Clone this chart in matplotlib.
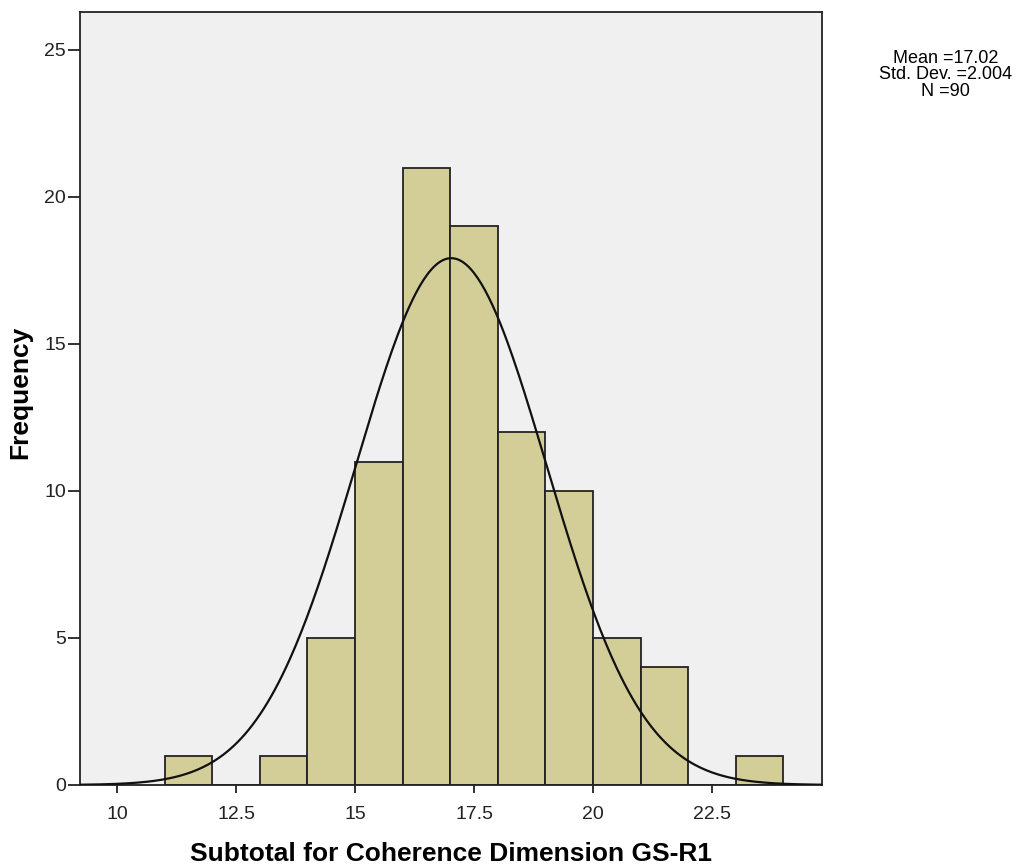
import numpy as np
import matplotlib
matplotlib.use("Agg")
import matplotlib.pyplot as plt

plt.rcParams['font.family'] = ['Liberation Sans', 'DejaVu Sans']

# histogram bins (width 1) and counts
bin_left = [11, 12, 13, 14, 15, 16, 17, 18, 19, 20, 21, 22, 23]
counts = [1, 0, 1, 5, 11, 21, 19, 12, 10, 5, 4, 0, 1]
mean = 17.02
sd = 2.004
n = 90

x_ticks = [10, 12.5, 15, 17.5, 20, 22.5]
x_tick_labels = ["10", "12.5", "15", "17.5", "20", "22.5"]
y_ticks = [0, 5, 10, 15, 20, 25]

fig = plt.figure(figsize=(10.28, 8.67), dpi=100)
ax = fig.add_axes([0.0778, 0.0946, 0.7218, 0.8916])
ax.set_facecolor("#F0F0F0")

ax.bar(bin_left, counts, width=1, align="edge", color="#D3CE97",
       edgecolor="#222222", linewidth=1.3, zorder=2)

xs = np.linspace(9.22, 24.8, 400)
ys = n * 1 / (sd * np.sqrt(2 * np.pi)) * np.exp(-0.5 * ((xs - mean) / sd) ** 2)
ax.plot(xs, ys, color="#111111", linewidth=1.6, zorder=3)

ax.set_xlim(9.22, 24.81)
ax.set_ylim(0, 26.29)
ax.set_xticks(x_ticks)
ax.set_xticklabels(x_tick_labels)
ax.set_yticks(y_ticks)
ax.tick_params(axis="x", length=6, width=1.3, labelsize=14, pad=9, colors="#222222")
ax.tick_params(axis="y", length=9, width=1.3, labelsize=14, pad=1, colors="#222222")
for s in ax.spines.values():
    s.set_linewidth(1.3)
    s.set_color("#222222")

ax.set_xlabel("Subtotal for Coherence Dimension GS-R1", fontsize=19,
              fontweight="bold", labelpad=14)
ax.set_ylabel("Frequency", fontsize=19, fontweight="bold")
ax.yaxis.set_label_coords(-0.064, 0.508)

fig.text(0.92, 0.9135, "Mean =%.2f\nStd. Dev. =%.3f\nN =%d" % (mean, sd, n),
         ha="center", va="center", fontsize=13, linespacing=0.95)

fig.savefig("out.png", dpi=100)
